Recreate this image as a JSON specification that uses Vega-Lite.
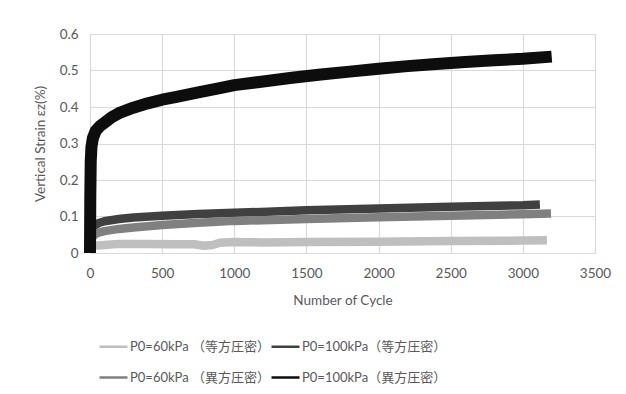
{
  "$schema": "https://vega.github.io/schema/vega-lite/v6.json",
  "width": 505,
  "height": 219,
  "autosize": "none",
  "padding": {"left": 90, "top": 34, "right": 31, "bottom": 141},
  "background": "white",
  "config": {
    "view": {"stroke": null},
    "font": "Lato, Noto Sans CJK JP",
    "axis": {"labelFont": "Lato", "titleFont": "Lato", "labelColor": "#595959", "titleColor": "#595959", "labelFontSize": 13.5, "titleFontSize": 13.5, "titleFontWeight": "normal", "gridColor": "#d9d9d9", "gridWidth": 1.2, "domain": false, "ticks": false, "labelFlush": false},
    "legend": {"labelFont": "Lato, Noto Sans CJK JP", "labelFontSize": 13, "labelColor": "#595959"}
  },
  "data": {"values": [
    {"series": "P0=60kPa （等方圧密）", "cycle": 0, "strain": 0.005},
    {"series": "P0=60kPa （等方圧密）", "cycle": 10, "strain": 0.015},
    {"series": "P0=60kPa （等方圧密）", "cycle": 30, "strain": 0.02},
    {"series": "P0=60kPa （等方圧密）", "cycle": 100, "strain": 0.022},
    {"series": "P0=60kPa （等方圧密）", "cycle": 200, "strain": 0.025},
    {"series": "P0=60kPa （等方圧密）", "cycle": 400, "strain": 0.025},
    {"series": "P0=60kPa （等方圧密）", "cycle": 600, "strain": 0.024},
    {"series": "P0=60kPa （等方圧密）", "cycle": 720, "strain": 0.024},
    {"series": "P0=60kPa （等方圧密）", "cycle": 790, "strain": 0.02},
    {"series": "P0=60kPa （等方圧密）", "cycle": 850, "strain": 0.022},
    {"series": "P0=60kPa （等方圧密）", "cycle": 900, "strain": 0.028},
    {"series": "P0=60kPa （等方圧密）", "cycle": 1000, "strain": 0.03},
    {"series": "P0=60kPa （等方圧密）", "cycle": 1200, "strain": 0.029},
    {"series": "P0=60kPa （等方圧密）", "cycle": 1500, "strain": 0.03},
    {"series": "P0=60kPa （等方圧密）", "cycle": 2000, "strain": 0.031},
    {"series": "P0=60kPa （等方圧密）", "cycle": 2500, "strain": 0.033},
    {"series": "P0=60kPa （等方圧密）", "cycle": 3000, "strain": 0.034},
    {"series": "P0=60kPa （等方圧密）", "cycle": 3167, "strain": 0.035},

    {"series": "P0=100kPa（等方圧密）", "cycle": 0, "strain": 0.045},
    {"series": "P0=100kPa（等方圧密）", "cycle": 10, "strain": 0.065},
    {"series": "P0=100kPa（等方圧密）", "cycle": 30, "strain": 0.075},
    {"series": "P0=100kPa（等方圧密）", "cycle": 60, "strain": 0.082},
    {"series": "P0=100kPa（等方圧密）", "cycle": 100, "strain": 0.087},
    {"series": "P0=100kPa（等方圧密）", "cycle": 200, "strain": 0.093},
    {"series": "P0=100kPa（等方圧密）", "cycle": 300, "strain": 0.097},
    {"series": "P0=100kPa（等方圧密）", "cycle": 500, "strain": 0.102},
    {"series": "P0=100kPa（等方圧密）", "cycle": 750, "strain": 0.107},
    {"series": "P0=100kPa（等方圧密）", "cycle": 1000, "strain": 0.11},
    {"series": "P0=100kPa（等方圧密）", "cycle": 1500, "strain": 0.117},
    {"series": "P0=100kPa（等方圧密）", "cycle": 2000, "strain": 0.122},
    {"series": "P0=100kPa（等方圧密）", "cycle": 2500, "strain": 0.127},
    {"series": "P0=100kPa（等方圧密）", "cycle": 3000, "strain": 0.131},
    {"series": "P0=100kPa（等方圧密）", "cycle": 3118, "strain": 0.133},

    {"series": "P0=60kPa （異方圧密）", "cycle": 0, "strain": 0.02},
    {"series": "P0=60kPa （異方圧密）", "cycle": 10, "strain": 0.04},
    {"series": "P0=60kPa （異方圧密）", "cycle": 30, "strain": 0.05},
    {"series": "P0=60kPa （異方圧密）", "cycle": 60, "strain": 0.056},
    {"series": "P0=60kPa （異方圧密）", "cycle": 100, "strain": 0.06},
    {"series": "P0=60kPa （異方圧密）", "cycle": 200, "strain": 0.066},
    {"series": "P0=60kPa （異方圧密）", "cycle": 300, "strain": 0.07},
    {"series": "P0=60kPa （異方圧密）", "cycle": 500, "strain": 0.077},
    {"series": "P0=60kPa （異方圧密）", "cycle": 750, "strain": 0.083},
    {"series": "P0=60kPa （異方圧密）", "cycle": 1000, "strain": 0.088},
    {"series": "P0=60kPa （異方圧密）", "cycle": 1500, "strain": 0.093},
    {"series": "P0=60kPa （異方圧密）", "cycle": 2000, "strain": 0.098},
    {"series": "P0=60kPa （異方圧密）", "cycle": 2500, "strain": 0.102},
    {"series": "P0=60kPa （異方圧密）", "cycle": 3000, "strain": 0.106},
    {"series": "P0=60kPa （異方圧密）", "cycle": 3195, "strain": 0.108},

    {"series": "P0=100kPa（異方圧密）", "cycle": 0, "strain": 0.0},
    {"series": "P0=100kPa（異方圧密）", "cycle": 2, "strain": 0.15},
    {"series": "P0=100kPa（異方圧密）", "cycle": 5, "strain": 0.25},
    {"series": "P0=100kPa（異方圧密）", "cycle": 10, "strain": 0.29},
    {"series": "P0=100kPa（異方圧密）", "cycle": 20, "strain": 0.315},
    {"series": "P0=100kPa（異方圧密）", "cycle": 40, "strain": 0.335},
    {"series": "P0=100kPa（異方圧密）", "cycle": 70, "strain": 0.348},
    {"series": "P0=100kPa（異方圧密）", "cycle": 100, "strain": 0.357},
    {"series": "P0=100kPa（異方圧密）", "cycle": 150, "strain": 0.372},
    {"series": "P0=100kPa（異方圧密）", "cycle": 200, "strain": 0.383},
    {"series": "P0=100kPa（異方圧密）", "cycle": 300, "strain": 0.398},
    {"series": "P0=100kPa（異方圧密）", "cycle": 400, "strain": 0.41},
    {"series": "P0=100kPa（異方圧密）", "cycle": 500, "strain": 0.42},
    {"series": "P0=100kPa（異方圧密）", "cycle": 600, "strain": 0.428},
    {"series": "P0=100kPa（異方圧密）", "cycle": 750, "strain": 0.44},
    {"series": "P0=100kPa（異方圧密）", "cycle": 900, "strain": 0.452},
    {"series": "P0=100kPa（異方圧密）", "cycle": 1000, "strain": 0.46},
    {"series": "P0=100kPa（異方圧密）", "cycle": 1200, "strain": 0.47},
    {"series": "P0=100kPa（異方圧密）", "cycle": 1400, "strain": 0.48},
    {"series": "P0=100kPa（異方圧密）", "cycle": 1600, "strain": 0.489},
    {"series": "P0=100kPa（異方圧密）", "cycle": 1800, "strain": 0.497},
    {"series": "P0=100kPa（異方圧密）", "cycle": 2000, "strain": 0.505},
    {"series": "P0=100kPa（異方圧密）", "cycle": 2200, "strain": 0.512},
    {"series": "P0=100kPa（異方圧密）", "cycle": 2400, "strain": 0.518},
    {"series": "P0=100kPa（異方圧密）", "cycle": 2600, "strain": 0.523},
    {"series": "P0=100kPa（異方圧密）", "cycle": 2800, "strain": 0.528},
    {"series": "P0=100kPa（異方圧密）", "cycle": 3000, "strain": 0.532},
    {"series": "P0=100kPa（異方圧密）", "cycle": 3200, "strain": 0.538}
  ]},
  "encoding": {
    "x": {"field": "cycle", "type": "quantitative", "title": "Number of Cycle",
      "scale": {"domain": [0, 3500], "nice": false},
      "axis": {"values": [0, 500, 1000, 1500, 2000, 2500, 3000, 3500], "format": "d", "labelPadding": 13, "titlePadding": 14}},
    "y": {"field": "strain", "type": "quantitative", "title": "Vertical Strain εz(%)",
      "scale": {"domain": [0, 0.6], "nice": false},
      "axis": {"values": [0, 0.1, 0.2, 0.3, 0.4, 0.5, 0.6], "format": ".1~f", "labelPadding": 12, "titlePadding": 12}},
    "color": {"field": "series", "type": "nominal", "title": null,
      "scale": {"domain": ["P0=60kPa （等方圧密）", "P0=100kPa（等方圧密）", "P0=60kPa （異方圧密）", "P0=100kPa（異方圧密）"],
                "range": ["#bfbfbf", "#404040", "#808080", "#0d0d0d"]},
      "legend": {"orient": "none", "legendX": 8, "legendY": 297, "columns": 2, "direction": "horizontal",
                 "symbolType": "stroke", "symbolSize": 784, "symbolStrokeWidth": 2.5, "labelOffset": 1,
                 "columnPadding": -6, "rowPadding": 8,
                 "encoding": {"symbols": {"update": {"strokeWidth": {"value": 2.5}}}}}}
  },
  "layer": [
    {"transform": [{"filter": "datum.series !== 'P0=100kPa（異方圧密）'"}],
     "mark": {"type": "line", "strokeWidth": 8.5, "strokeCap": "butt", "strokeJoin": "round"}},
    {"transform": [{"filter": "datum.series === 'P0=100kPa（異方圧密）'"}],
     "mark": {"type": "line", "strokeWidth": 12, "strokeCap": "butt", "strokeJoin": "round"}}
  ]
}
